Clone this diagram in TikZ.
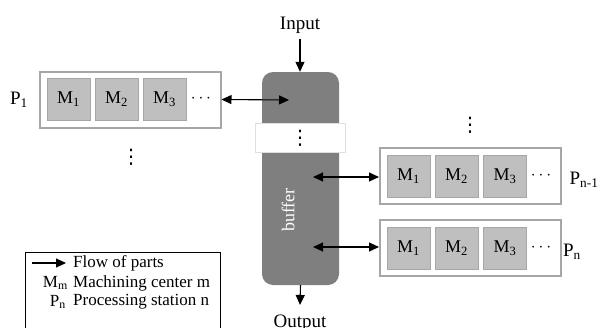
\documentclass[tikz,border=0pt]{standalone}
\usepackage{fontspec}
\setmainfont{Liberation Serif}
\newfontfamily\symfont{DejaVu Sans}
\usetikzlibrary{arrows.meta}
\definecolor{bufgray}{HTML}{7F7F7F}
\definecolor{mgray}{HTML}{BFBFBF}
\definecolor{bordgray}{HTML}{A6A6A6}
\tikzset{
  station/.style={draw=bordgray, line width=2pt, fill=white, minimum width=181pt, minimum height=56pt, inner sep=0pt},
  mbox/.style={draw=bordgray, line width=0.6pt, fill=mgray, minimum width=43pt, minimum height=42pt, inner sep=0pt, font=\fontsize{18}{20}\selectfont},
  flow/.style={line width=1.1pt, -{Triangle[length=10pt,width=9pt]}},
  bflow/.style={line width=1.1pt, {Triangle[length=10pt,width=9pt]}-{Triangle[length=10pt,width=9pt]}},
  lbl/.style={font=\fontsize{19}{21}\selectfont, inner sep=0pt},
  dotsn/.style={font=\fontsize{18}{20}\selectfont, inner sep=0pt},
  vdotsn/.style={font=\symfont\fontsize{20}{22}\selectfont, inner sep=0pt},
  leg/.style={font=\fontsize{17}{19}\selectfont, inner sep=0pt, anchor=west},
}
\begin{document}
\begin{tikzpicture}[x=1pt,y=-1pt]
\useasboundingbox (0,0) rectangle (603,327);
% buffer
\node[fill=bufgray, rounded corners=11pt, minimum width=77pt, minimum height=213pt, inner sep=0pt] (buf) at (300.5,178.5) {};
\node[draw=black!12, fill=white, minimum width=90pt, minimum height=29pt, inner sep=0pt] (band) at (300,137.5) {};
\node[vdotsn] (banddots) at (300,138) {⋮};
\node[rotate=90, text=white, font=\fontsize{18}{20}\selectfont, inner sep=0pt] (buftxt) at (288,210) {buffer};
% input/output
\node[lbl] (in) at (300,25) {Input};
\draw[flow] (in.south) ++(0,6) coordinate (ins) -- (buf.north -| ins);
\node[lbl] (out) at (300,323) {Output};
\draw[flow] (buf.south) -- (300,305) coordinate (outn);
% P1
\node[station] (p1) at (130,99.5) {};
\node[mbox] (p1m1) at (68.5,99) {M\textsubscript{1}};
\node[mbox] (p1m2) at (116.5,99) {M\textsubscript{2}};
\node[mbox] (p1m3) at (164.5,99) {M\textsubscript{3}};
\node[dotsn] (p1d) at (201,99) {$\cdots$};
\node[lbl] (p1l) at (19,100) {P\textsubscript{1}};
\coordinate (b1) at (289,100);
\draw[bflow] (p1.east) -- (b1);
\node[vdotsn] (vd1) at (131,157) {⋮};
% Pn-1
\node[station] (pa) at (470.5,175.5) {};
\node[mbox] (pam1) at (408.5,176) {M\textsubscript{1}};
\node[mbox] (pam2) at (456.5,176) {M\textsubscript{2}};
\node[mbox] (pam3) at (505,176) {M\textsubscript{3}};
\node[dotsn] (pad) at (541,176) {$\cdots$};
\node[lbl] (pal) at (584,180) {P\textsubscript{n-1}};
\coordinate (b2) at (313,177);
\draw[bflow] (b2) -- (pa.west |- b2);
\node[vdotsn] (vd2) at (470,125) {⋮};
% Pn
\node[station] (pb) at (470.5,247.5) {};
\node[mbox] (pbm1) at (408.5,248) {M\textsubscript{1}};
\node[mbox] (pbm2) at (456.5,248) {M\textsubscript{2}};
\node[mbox] (pbm3) at (505,248) {M\textsubscript{3}};
\node[dotsn] (pbd) at (541,248) {$\cdots$};
\node[lbl] (pbl) at (572,252) {P\textsubscript{n}};
\coordinate (b3) at (313,247);
\draw[bflow] (b3) -- (pb.west |- b3);
% legend
\draw[line width=0.8pt] (25,252) rectangle (220,345);
\coordinate (la) at (32,263);
\coordinate (lb) at (66,263);
\draw[flow] (la) -- (lb);
\node[leg] (l1) at (73,263) {Flow of parts};
\node[leg, anchor=east] (l2a) at (68,283) {M\textsubscript{m}};
\node[leg] (l2) at (73,283) {Machining center m};
\node[leg, anchor=east] (l3a) at (66,302) {P\textsubscript{n}};
\node[leg] (l3) at (73,302) {Processing station n};
\end{tikzpicture}
\end{document}
